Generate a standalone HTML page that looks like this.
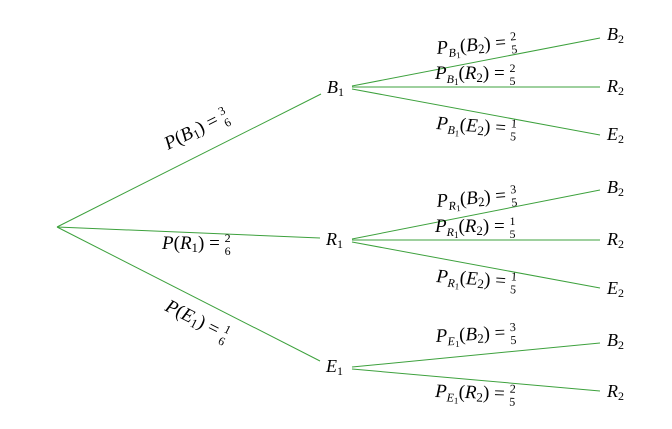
<!DOCTYPE html>
<html><head><meta charset="utf-8"><style>
html,body{margin:0;padding:0;background:#fff;}
svg{display:block;}
text{font-family:"Liberation Serif",serif;font-style:italic;fill:#000;}
.n{font-style:normal;}
</style></head><body>
<svg width="672" height="429" viewBox="0 0 672 429" xmlns="http://www.w3.org/2000/svg">
<g stroke="#3da13d" stroke-width="1" fill="none">
<line x1="57" y1="227" x2="321" y2="94"/>
<line x1="57" y1="227" x2="320" y2="238"/>
<line x1="57" y1="227" x2="320" y2="361"/>
<line x1="352" y1="86" x2="600" y2="38"/>
<line x1="352" y1="87" x2="600" y2="87"/>
<line x1="352" y1="89" x2="600" y2="135"/>
<line x1="352" y1="239" x2="600" y2="190"/>
<line x1="352" y1="240" x2="600" y2="240"/>
<line x1="352" y1="242" x2="600" y2="288"/>
<line x1="352" y1="367" x2="600" y2="343"/>
<line x1="352" y1="369" x2="600" y2="391"/>
</g>
<g font-size="18">
<text x="327" y="93">B<tspan class="n" font-size="12" dy="3">1</tspan></text>
<text x="326" y="245">R<tspan class="n" font-size="12" dy="3">1</tspan></text>
<text x="326" y="372">E<tspan class="n" font-size="12" dy="3">1</tspan></text>
<text x="607" y="40">B<tspan class="n" font-size="12" dy="3">2</tspan></text>
<text x="607" y="92">R<tspan class="n" font-size="12" dy="3">2</tspan></text>
<text x="607" y="140">E<tspan class="n" font-size="12" dy="3">2</tspan></text>
<text x="607" y="193">B<tspan class="n" font-size="12" dy="3">2</tspan></text>
<text x="607" y="245">R<tspan class="n" font-size="12" dy="3">2</tspan></text>
<text x="607" y="294">E<tspan class="n" font-size="12" dy="3">2</tspan></text>
<text x="607" y="346">B<tspan class="n" font-size="12" dy="3">2</tspan></text>
<text x="607" y="397">R<tspan class="n" font-size="12" dy="3">2</tspan></text>
</g>
<g font-size="19">
<g transform="translate(168,150) rotate(-26.6)"><text x="0" y="0">P<tspan class="n">(</tspan>B<tspan class="n" font-size="13" dy="3">1</tspan><tspan class="n" dy="-3">) = </tspan><tspan class="n" font-size="12" dy="-7">3</tspan><tspan class="n" font-size="12" dx="-6" dy="13">6</tspan></text></g>
<text x="162" y="249">P<tspan class="n">(</tspan>R<tspan class="n" font-size="13" dy="3">1</tspan><tspan class="n" dy="-3">) = </tspan><tspan class="n" font-size="12" dy="-7">2</tspan><tspan class="n" font-size="12" dx="-6" dy="13">6</tspan></text>
<g transform="translate(164,310) rotate(26.6)"><text x="0" y="0">P<tspan class="n">(</tspan>E<tspan class="n" font-size="13" dy="3">1</tspan><tspan class="n" dy="-3">) = </tspan><tspan class="n" font-size="12" dy="-7">1</tspan><tspan class="n" font-size="12" dx="-6" dy="13">6</tspan></text></g>

<g transform="translate(437,54) rotate(-5)"><text>P<tspan font-size="12" dy="4">B</tspan><tspan class="n" font-size="9" dy="2">1</tspan><tspan class="n" dy="-6">(</tspan>B<tspan class="n" font-size="13" dy="3">2</tspan><tspan class="n" dy="-3">) = </tspan><tspan class="n" font-size="12" dy="-7">2</tspan><tspan class="n" font-size="12" dx="-6" dy="13">5</tspan></text></g>
<text x="435" y="79">P<tspan font-size="12" dy="4">B</tspan><tspan class="n" font-size="9" dy="2">1</tspan><tspan class="n" dy="-6">(</tspan>R<tspan class="n" font-size="13" dy="3">2</tspan><tspan class="n" dy="-3">) = </tspan><tspan class="n" font-size="12" dy="-7">2</tspan><tspan class="n" font-size="12" dx="-6" dy="13">5</tspan></text>
<g transform="translate(436,129) rotate(4)"><text>P<tspan font-size="12" dy="4">B</tspan><tspan class="n" font-size="9" dy="2">1</tspan><tspan class="n" dy="-6">(</tspan>E<tspan class="n" font-size="13" dy="3">2</tspan><tspan class="n" dy="-3">) = </tspan><tspan class="n" font-size="12" dy="-7">1</tspan><tspan class="n" font-size="12" dx="-6" dy="13">5</tspan></text></g>

<g transform="translate(437,207) rotate(-5)"><text>P<tspan font-size="12" dy="4">R</tspan><tspan class="n" font-size="9" dy="2">1</tspan><tspan class="n" dy="-6">(</tspan>B<tspan class="n" font-size="13" dy="3">2</tspan><tspan class="n" dy="-3">) = </tspan><tspan class="n" font-size="12" dy="-7">3</tspan><tspan class="n" font-size="12" dx="-6" dy="13">5</tspan></text></g>
<text x="435" y="232">P<tspan font-size="12" dy="4">R</tspan><tspan class="n" font-size="9" dy="2">1</tspan><tspan class="n" dy="-6">(</tspan>R<tspan class="n" font-size="13" dy="3">2</tspan><tspan class="n" dy="-3">) = </tspan><tspan class="n" font-size="12" dy="-7">1</tspan><tspan class="n" font-size="12" dx="-6" dy="13">5</tspan></text>
<g transform="translate(436,282) rotate(4)"><text>P<tspan font-size="12" dy="4">R</tspan><tspan class="n" font-size="9" dy="2">1</tspan><tspan class="n" dy="-6">(</tspan>E<tspan class="n" font-size="13" dy="3">2</tspan><tspan class="n" dy="-3">) = </tspan><tspan class="n" font-size="12" dy="-7">1</tspan><tspan class="n" font-size="12" dx="-6" dy="13">5</tspan></text></g>

<g transform="translate(436,342) rotate(-3)"><text>P<tspan font-size="12" dy="4">E</tspan><tspan class="n" font-size="9" dy="2">1</tspan><tspan class="n" dy="-6">(</tspan>B<tspan class="n" font-size="13" dy="3">2</tspan><tspan class="n" dy="-3">) = </tspan><tspan class="n" font-size="12" dy="-7">3</tspan><tspan class="n" font-size="12" dx="-6" dy="13">5</tspan></text></g>
<g transform="translate(435,397) rotate(2)"><text>P<tspan font-size="12" dy="4">E</tspan><tspan class="n" font-size="9" dy="2">1</tspan><tspan class="n" dy="-6">(</tspan>R<tspan class="n" font-size="13" dy="3">2</tspan><tspan class="n" dy="-3">) = </tspan><tspan class="n" font-size="12" dy="-7">2</tspan><tspan class="n" font-size="12" dx="-6" dy="13">5</tspan></text></g>
</g>
</svg>
</body></html>
